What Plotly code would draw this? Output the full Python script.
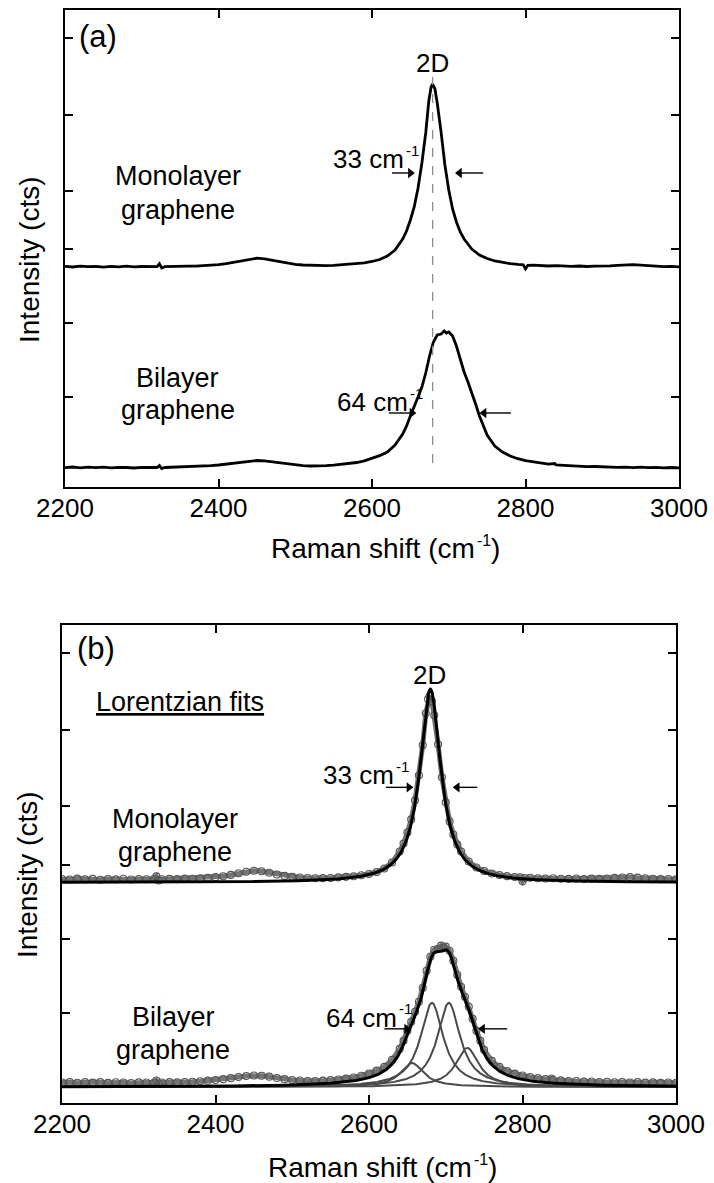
import numpy as np
import plotly.graph_objects as go

# ---------------------------------------------------------------------------
# Measured 2D-band spectra (counts above each spectrum's own baseline)
# ---------------------------------------------------------------------------
mono_shift = [2200, 2210, 2220, 2230, 2240, 2250, 2260, 2270, 2280, 2290, 2300,
              2310, 2320, 2323, 2326, 2330, 2340, 2350, 2360, 2370, 2380, 2390,
              2400, 2410, 2420, 2430, 2440, 2450, 2460, 2470, 2480, 2490, 2500,
              2510, 2520, 2530, 2540, 2550, 2560, 2570, 2580, 2590, 2600, 2610,
              2620, 2630, 2640, 2645, 2650, 2655, 2660, 2665, 2670, 2674, 2677,
              2679, 2682, 2685, 2690, 2695, 2700, 2705, 2710, 2715, 2720, 2730,
              2740, 2750, 2760, 2770, 2780, 2790, 2797, 2800, 2803, 2810, 2820,
              2830, 2840, 2850, 2860, 2870, 2880, 2890, 2900, 2910, 2920, 2930,
              2940, 2950, 2960, 2970, 2980, 2990, 3000]
mono_counts = [0.6, 0.0, 0.9, 0.3, 0.7, -0.2, 0.6, 0.2, 0.8, 0.1, 0.5,
               0.3, 0.4, 3.2, -1.0, 0.3, 0.7, 0.4, 0.9, 0.8, 1.2, 1.7,
               2.4, 3.3, 4.6, 6.2, 7.8, 8.8, 8.2, 6.8, 5.0, 3.6, 2.7,
               2.0, 1.6, 1.3, 1.4, 1.6, 2.2, 2.7, 3.3, 4.2, 5.5, 7.5,
               11, 17, 28, 36, 47, 60, 79, 104, 134, 166, 180,
               183, 178, 164, 135, 102, 77, 58, 45, 35, 28, 18,
               12, 8.5, 6.0, 4.5, 3.4, 2.6, 2.2, -1.8, 1.6, 1.8, 1.3,
               1.0, 1.3, 0.8, 0.7, 1.0, 0.5, 0.9, 0.7, 1.1, 1.7, 2.1,
               2.4, 1.9, 1.3, 0.8, 0.4, 0.6, 0.2]

bi_shift = [2200, 2210, 2220, 2230, 2240, 2250, 2260, 2270, 2280, 2290, 2300,
            2310, 2320, 2323, 2326, 2330, 2340, 2350, 2360, 2370, 2380, 2390,
            2400, 2410, 2420, 2430, 2440, 2450, 2460, 2470, 2480, 2490, 2500,
            2510, 2520, 2530, 2540, 2550, 2560, 2570, 2580, 2590, 2600, 2610,
            2620, 2630, 2640, 2645, 2650, 2655, 2660, 2665, 2670, 2675, 2680,
            2685, 2690, 2694, 2697, 2700, 2705, 2710, 2715, 2720, 2725, 2730,
            2735, 2740, 2745, 2750, 2760, 2770, 2780, 2790, 2800, 2810, 2820,
            2830, 2838, 2840, 2850, 2860, 2870, 2880, 2890, 2900, 2910, 2920,
            2930, 2940, 2950, 2960, 2970, 2980, 2990, 3000]
bi_counts = [0.4, 1.0, 0.2, 0.8, 0.3, 0.9, 0.1, 0.7, 0.5, 0.0, 0.6,
             0.4, 0.5, 2.4, -0.6, 0.5, 0.8, 0.6, 1.0, 1.2, 1.7, 2.3,
             3.0, 3.8, 4.8, 5.9, 6.9, 7.5, 7.2, 6.3, 5.0, 3.8, 3.0,
             2.4, 2.0, 2.0, 2.3, 2.8, 3.5, 4.3, 5.5, 7.2, 9.4, 12.3,
             16, 23, 34, 42, 52, 61, 71, 81, 95, 112, 126,
             133, 134, 137, 135, 136, 132, 122, 108, 96, 86, 76,
             64, 52, 42, 33, 22, 16, 12, 9.3, 7.4, 6.0, 4.9,
             3.9, 4.5, 3.0, 2.6, 2.0, 1.9, 1.3, 1.5, 1.0, 1.2, 0.7,
             0.9, 0.4, 0.8, 0.3, 0.6, 0.1, 0.5, 0.2]

# Lorentzian fit parameters (centre, FWHM, peak height)
mono_fit_center = [2680]
mono_fit_fwhm = [33]
mono_fit_height = [193]
bi_fit_centers = [2656, 2682, 2704, 2728]
bi_fit_fwhm = [36, 36, 36, 36]
bi_fit_heights = [24, 84, 84, 39]

x_ticks = [2200, 2400, 2600, 2800, 3000]
y_ticks = [90, 164, 238, 296, 372, 449]

# vertical stacking of the spectra inside each panel
MONO_BASE_A, BI_BASE_A = 220, 19
MONO_BASE_B, BI_BASE_B = 223, 20
MONO_FIT_BASE_B, BI_FIT_BASE_B = 220, 16
PEAK_2D_MONO = 2679
Y_RANGE = [0, 477]

FONT = "Liberation Sans"
W, H = 714, 1183


def lorentz(x, c, fwhm, h):
    return h / (1.0 + ((x - c) / (fwhm / 2.0)) ** 2)


def shifted(vals, base):
    return [v + base for v in vals]


fig = go.Figure()

# ----------------------------- panel (a) -----------------------------------
for xs, ys, base in ((mono_shift, mono_counts, MONO_BASE_A),
                     (bi_shift, bi_counts, BI_BASE_A)):
    fig.add_trace(go.Scatter(x=xs, y=shifted(ys, base), mode="lines",
                             line=dict(color="black", width=2.8),
                             xaxis="x", yaxis="y", showlegend=False))

# ----------------------------- panel (b) -----------------------------------
for xs, ys, base in ((mono_shift, mono_counts, MONO_BASE_B),
                     (bi_shift, bi_counts, BI_BASE_B)):
    fig.add_trace(go.Scatter(x=xs, y=shifted(ys, base), mode="lines+markers",
                             line=dict(color="#747474", width=5),
                             marker=dict(symbol="circle-open", size=7,
                                         color="#555555", line=dict(width=1.1)),
                             xaxis="x2", yaxis="y2", showlegend=False))

grid = np.linspace(2200, 3000, 1601)
components = [lorentz(grid, c, w, h)
              for c, w, h in zip(bi_fit_centers, bi_fit_fwhm, bi_fit_heights)]
for comp in components:
    fig.add_trace(go.Scatter(x=grid, y=comp + BI_FIT_BASE_B, mode="lines",
                             line=dict(color="#4a4a4a", width=2),
                             xaxis="x2", yaxis="y2", showlegend=False))
fig.add_trace(go.Scatter(x=grid, y=np.sum(components, axis=0) + BI_FIT_BASE_B,
                         mode="lines", line=dict(color="black", width=3),
                         xaxis="x2", yaxis="y2", showlegend=False))
mono_fit = sum(lorentz(grid, c, w, h) for c, w, h in
               zip(mono_fit_center, mono_fit_fwhm, mono_fit_height))
fig.add_trace(go.Scatter(x=grid, y=mono_fit + MONO_FIT_BASE_B, mode="lines",
                         line=dict(color="black", width=3),
                         xaxis="x2", yaxis="y2", showlegend=False))

# dashed marker of the monolayer 2D position
fig.add_shape(type="line", xref="x", yref="y",
              x0=PEAK_2D_MONO, x1=PEAK_2D_MONO,
              y0=BI_BASE_A + 5, y1=MONO_BASE_A + max(mono_counts) + 7,
              line=dict(color="#8c8c8c", width=1.3, dash="dash"))


# FWHM arrows: a short shaft ending in a filled triangle at the tip
def arrow(x_tail, x_tip, y, xa, ya):
    head = "triangle-right" if x_tip > x_tail else "triangle-left"
    fig.add_trace(go.Scatter(x=[x_tail, x_tip], y=[y, y], mode="lines",
                             line=dict(color="black", width=1.4),
                             xaxis=xa, yaxis=ya, showlegend=False))
    fig.add_trace(go.Scatter(x=[x_tip], y=[y], mode="markers",
                             marker=dict(symbol=head, size=9, color="black"),
                             xaxis=xa, yaxis=ya, showlegend=False))


arrow(2626, 2650, 314, "x", "y")
arrow(2745, 2714, 314, "x", "y")
arrow(2622, 2652, 74, "x", "y")
arrow(2781, 2746, 74, "x", "y")
arrow(2622, 2652, 315, "x2", "y2")
arrow(2741, 2715, 315, "x2", "y2")
arrow(2620, 2649, 74, "x2", "y2")
arrow(2780, 2748, 74, "x2", "y2")

# ------------------------------ axes ----------------------------------------
common = dict(showline=True, linecolor="black", linewidth=2, mirror="ticks",
              ticks="inside", ticklen=8, tickwidth=1.5, tickcolor="black",
              showgrid=False, zeroline=False, automargin=False)
xcommon = dict(common, range=[2200, 3000], tickvals=x_ticks,
               tickfont=dict(family=FONT, size=26, color="black"),
               ticklabelstandoff=-3)
ycommon = dict(common, range=Y_RANGE, tickvals=y_ticks, showticklabels=False)

fig.update_layout(
    width=W, height=H, autosize=False,
    margin=dict(l=0, r=0, t=0, b=0, pad=0),
    paper_bgcolor="white", plot_bgcolor="white",
    xaxis=dict(xcommon, domain=[65 / W, 679 / W], anchor="y"),
    yaxis=dict(ycommon, domain=[1 - 487 / H, 1 - 10 / H], anchor="x"),
    xaxis2=dict(xcommon, domain=[62 / W, 676 / W], anchor="y2"),
    yaxis2=dict(ycommon, domain=[1 - 1103 / H, 1 - 625 / H], anchor="x2"),
)

ann = []


def text(x, y, s, size=27, xref="x", yref="y", xanchor="center", **kw):
    ann.append(dict(x=x, y=y, text=s, xref=xref, yref=yref, showarrow=False,
                    xanchor=xanchor, yanchor="middle", borderpad=0,
                    font=dict(family=FONT, size=size, color="black"), **kw))


def width_label(x_end, y, number, xref, yref):
    """'NN cm' ending at x_end, with a raised '-1' right after it."""
    text(x_end, y, f"{number} cm", size=26, xref=xref, yref=yref,
         xanchor="right")
    text(x_end, y, "-1", size=15, xref=xref, yref=yref, xanchor="left",
         yshift=9)


def x_title(x_px, y_px):
    """'Raman shift (cm' + raised '-1' + ')' in paper coordinates."""
    x, y = x_px / W, 1 - y_px / H
    text(x, y, "Raman shift (cm", size=28, xref="paper", yref="paper",
         xanchor="right")
    text(x, y, "-1", size=16, xref="paper", yref="paper", xanchor="left",
         yshift=8)
    text(x, y, ")", size=28, xref="paper", yref="paper", xanchor="left",
         xshift=14)


# panel (a) labels
text(2243, 450, "(a)", size=31)
text(PEAK_2D_MONO, 424, "2D", size=26)
width_label(2643, 328, 33, "x", "y")
text(2347, 311, "Monolayer")
text(2347, 277, "graphene")
text(2347, 109, "Bilayer")
text(2347, 77, "graphene")
width_label(2648, 85, 64, "x", "y")

# panel (b) labels
text(2244, 454, "(b)", size=31, xref="x2", yref="y2")
text(2679, 427, "2D", size=26, xref="x2", yref="y2")
text(2354, 400, "<u>Lorentzian fits</u>", xref="x2", yref="y2")
width_label(2634, 327, 33, "x2", "y2")
text(2347, 283, "Monolayer", xref="x2", yref="y2")
text(2347, 250, "graphene", xref="x2", yref="y2")
text(2345, 86, "Bilayer", xref="x2", yref="y2")
text(2345, 53, "graphene", xref="x2", yref="y2")
width_label(2638, 85, 64, "x2", "y2")

# axis titles
for yc, xc in ((260, 29), (875, 27)):
    text(xc / W, 1 - yc / H, "Intensity (cts)", size=28, xref="paper",
         yref="paper", textangle=-90)
x_title(476, 548)
x_title(473, 1167)

fig.update_layout(annotations=ann)
fig.write_html("out.html")
